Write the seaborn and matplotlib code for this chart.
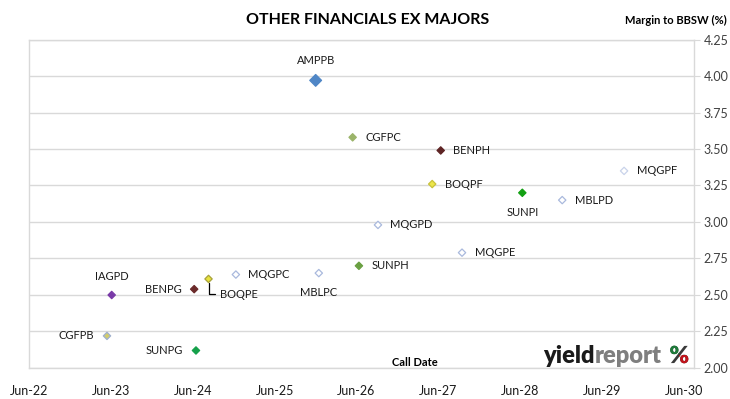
import matplotlib
matplotlib.use("Agg")
import matplotlib.pyplot as plt
import matplotlib.dates as mdates
from matplotlib.font_manager import FontProperties
from matplotlib.patches import PathPatch, Rectangle
from matplotlib.textpath import TextPath
from matplotlib.transforms import Affine2D, IdentityTransform, offset_copy
import pandas as pd
import seaborn as sns

# Hybrid securities: code, call date, margin to BBSW (%)
CODES = ["AMPPB", "CGFPC", "BENPH", "BOQPF", "SUNPI", "MBLPD", "MQGPF", "MQGPD", "MQGPE",
         "SUNPH", "IAGPD", "BENPG", "BOQPE", "MQGPC", "MBLPC", "CGFPB", "SUNPG"]
CALL_DATES = ["2025-12-01", "2026-05-15", "2027-06-12", "2027-05-05", "2028-06-10", "2028-12-05",
              "2029-09-07", "2026-09-05", "2027-09-15", "2026-06-12", "2023-06-05", "2024-06-07",
              "2024-08-10", "2024-12-10", "2025-12-15", "2023-05-15", "2024-06-15"]
MARGINS = [3.97, 3.58, 3.49, 3.26, 3.20, 3.15, 3.35, 2.98, 2.79,
           2.70, 2.50, 2.54, 2.61, 2.64, 2.65, 2.22, 2.12]
EDGE_COLOURS = ["#4f86c6", "#9bb46a", "#5e2424", "#c9c23a", "#12a012", "#a9b9dd", "#c9d3ea",
                "#a9b9dd", "#a9b9dd", "#6aa042", "#7a3aa8", "#6b2a2a", "#a8a23a", "#a9b9dd",
                "#a9b9dd", "#9fb0cf", "#14a04a"]
FILL_COLOURS = ["#4f86c6", "#9bb46a", "#5e2424", "#ece64a", "#12a012", "white", "white",
                "white", "white", "#6aa042", "#7a3aa8", "#6b2a2a", "#e8e23c", "white",
                "white", "#d2cc6c", "#14a04a"]
LABEL_SIDE = ["above", "right", "right", "right", "below", "right", "right", "right", "right",
              "right", "above", "left", "leader", "right", "below", "left", "left"]
Y_TICKS = [2.00, 2.25, 2.50, 2.75, 3.00, 3.25, 3.50, 3.75, 4.00, 4.25]
X_TICK_YEARS = list(range(2022, 2031))

df = pd.DataFrame({"code": CODES, "call": pd.to_datetime(CALL_DATES), "margin": MARGINS})
df["big"] = df["code"].eq("AMPPB")

sns.set_theme(style="white")
plt.rcParams["font.family"] = ["Lato", "DejaVu Sans"]

fig = plt.figure(figsize=(7.30, 3.99), dpi=100)
ax = fig.add_axes([0.0397, 0.0777, 0.9110, 0.8233])

sns.scatterplot(data=df, x="call", y="margin", hue="code", palette=dict(zip(CODES, EDGE_COLOURS)),
                size="big", sizes={True: 36, False: 14}, marker="D", linewidth=0.9,
                legend=False, ax=ax, zorder=3)
pts = ax.collections[0]
pts.set_facecolors(FILL_COLOURS)
pts.set_edgecolors(EDGE_COLOURS)

offsets = {"above": ((0, 9), "center", "bottom"), "below": ((0, -10), "center", "top"),
           "right": ((9, 0), "left", "center"), "left": ((-9, 0), "right", "center")}
for code, when, m, side in zip(df["code"], df["call"], df["margin"], LABEL_SIDE):
    if side == "leader":
        ax.annotate(code, (when, m), xytext=(8, -11), textcoords="offset points",
                    ha="left", va="center", fontsize=8, color="#1a1a1a",
                    arrowprops=dict(arrowstyle="-", color="black", lw=0.9, relpos=(0, 0.5),
                                    connectionstyle="angle,angleA=0,angleB=90,rad=0",
                                    shrinkA=1, shrinkB=3))
        continue
    off, ha, va = offsets[side]
    if code == "AMPPB":
        off = (0, 10)
    ax.annotate(code, (when, m), xytext=off, textcoords="offset points",
                ha=ha, va=va, fontsize=8, color="#1a1a1a")

ax.set_ylim(2.0, 4.25)
ax.set_yticks(Y_TICKS)
ax.set_yticklabels([f"{v:.2f}" for v in Y_TICKS])
ax.yaxis.tick_right()
ax.tick_params(axis="y", which="major", right=True, length=4, width=0.8, color="#d9d9d9",
               labelsize=9, labelcolor="#404040", pad=3)

xt = [pd.Timestamp(f"{y}-06-01") for y in X_TICK_YEARS]
ax.set_xlim(xt[0], xt[-1] + pd.Timedelta(days=45))
ax.set_xticks(xt)
ax.xaxis.set_major_formatter(mdates.DateFormatter("%b-%y"))
ax.tick_params(axis="x", bottom=False, labelsize=9, labelcolor="#1a1a1a", pad=6)
ax.set_xlabel("")
ax.set_ylabel("")

ax.grid(axis="y", color="#d9d9d9", lw=1)
ax.grid(axis="x", visible=False)
for s in ax.spines.values():
    s.set_color("#d9d9d9")
    s.set_linewidth(1)

fig.text(0.503, 0.950, "OTHER FINANCIALS EX MAJORS", ha="center", va="center",
         fontsize=11.5, fontweight="bold", color="black")
fig.text(0.996, 0.948, "Margin to BBSW (%)", ha="right", va="center",
         fontsize=8, fontweight="bold", color="black")
ax.text(0.58, 0.018, "Call Date", transform=ax.transAxes, ha="center", va="center",
        fontsize=8, fontweight="bold", color="black")

# yieldreport logo
fig.canvas.draw()
r = fig.canvas.get_renderer()
t1 = ax.text(0.773, 0.015, "yield", transform=ax.transAxes, ha="left", va="baseline",
             fontsize=17, fontweight="heavy", color="#1a1a1a")
w1 = t1.get_window_extent(r).width
ax.text(0.773, 0.015, "report", ha="left", va="baseline", fontsize=17,
        fontweight="heavy", color="#7f7f7f",
        transform=offset_copy(ax.transAxes, fig=fig, x=w1, y=0, units="dots"))

# percent sign: dark slash, green upper ring, red lower ring
pct = TextPath((0, 0), "%", prop=FontProperties(family="Lato", weight="heavy"), size=17)
px, py = ax.transAxes.transform((0.963, 0.015))
pct_tf = Affine2D().scale(fig.dpi / 72).translate(px, py)
ext = pct.get_extents().transformed(Affine2D().scale(fig.dpi / 72))
x0, y0 = px + ext.x0, py + ext.y0
w, h = ext.width, ext.height
fig.add_artist(PathPatch(pct, transform=pct_tf, facecolor="#3a3a3a", edgecolor="none"))
for colour, clip in [("#1e7a3a", (x0 - 1, y0 + h * 0.55, w * 0.5 + 1, h * 0.5)),
                     ("#c0141c", (x0 + w * 0.5, y0 - 1, w * 0.5 + 1, h * 0.45 + 1))]:
    patch = PathPatch(pct, transform=pct_tf, facecolor=colour, edgecolor="none")
    patch.set_clip_path(Rectangle(clip[:2], clip[2], clip[3], transform=IdentityTransform()))
    fig.add_artist(patch)

fig.savefig("out.png", dpi=100)
